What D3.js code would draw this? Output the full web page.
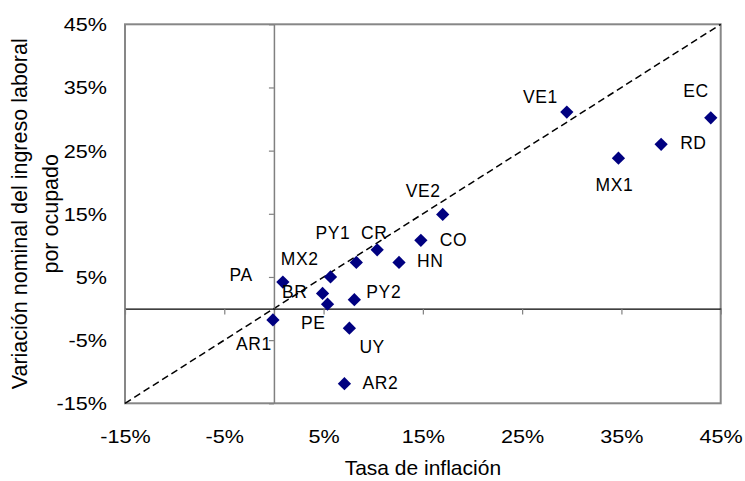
<!DOCTYPE html>
<html>
<head>
<meta charset="utf-8">
<script src="https://cdn.jsdelivr.net/npm/d3@7"></script>
<style>
  html, body { margin: 0; padding: 0; background: #fff; }
  svg { display: block; }
  text { font-family: "Liberation Sans", Arial, sans-serif; fill: #000; }
</style>
</head>
<body>
<svg id="chart" width="745" height="481"></svg>
<script>
// Inflation rate vs. nominal change in labour income per employed person (%)
const codes     = ["VE1", "EC", "RD", "MX1", "VE2", "CO", "CR", "HN", "PY1", "MX2", "PA", "BR", "PE", "PY2", "UY", "AR2", "AR1"];
const inflation = [29.5, 44.0, 39.0, 34.7, 17.0, 14.8, 10.4, 12.6, 8.3, 5.7, 0.9, 4.9, 5.4, 8.1, 7.6, 7.1, -0.1];
const income    = [31.1, 30.2, 26.0, 23.8, 14.9, 10.8, 9.3, 7.3, 7.3, 5.0, 4.2, 2.4, 0.7, 1.4, -3.1, -11.9, -1.8];

const xTicks = [-15, -5, 5, 15, 25, 35, 45];
const yTicks = [-15, -5, 5, 15, 25, 35, 45];
const xTitle = "Tasa de inflación";
const yTitleLines = ["Variación nominal del ingreso laboral", "por ocupado"];

// Label placement relative to each marker: anchor, dx, dy (baseline)
const labelPlacement = {
  VE1: ["end", -9, -9],   EC: ["end", -2, -21],  RD: ["start", 19, 5],
  MX1: ["middle", -4, 33], VE2: ["end", -2, -17], CO: ["start", 19, 6],
  CR: ["middle", -3, -11], HN: ["start", 18, 5],  PY1: ["end", -6, -23],
  MX2: ["end", -12, -12], PA: ["end", -30, -1],  BR: ["end", -15, 5],
  PE: ["end", -2, 25],    PY2: ["start", 12, -2], UY: ["start", 10, 25],
  AR2: ["start", 18, 5],  AR1: ["end", -1, 30]
};

const svg = d3.select("#chart");
const plot = { left: 125, top: 24.3, right: 720.7, bottom: 403.3 };

const x = d3.scaleLinear().domain([-15, 45]).range([plot.left, plot.right]);
const y = d3.scaleLinear().domain([-15, 45]).range([plot.bottom, plot.top]);

const pct = d => d + "%";

// Plot frame
svg.append("rect")
  .attr("x", plot.left).attr("y", plot.top)
  .attr("width", plot.right - plot.left).attr("height", plot.bottom - plot.top)
  .attr("fill", "none").attr("stroke", "#878787").attr("stroke-width", 2);

// 45-degree reference line
svg.append("line")
  .attr("x1", x(-15)).attr("y1", y(-15))
  .attr("x2", x(45)).attr("y2", y(45))
  .attr("stroke", "#000").attr("stroke-width", 1.5)
  .attr("stroke-dasharray", "7,4");

// Vertical axis through x = 0, ticks pointing left
const yZeroAxis = svg.append("g")
  .attr("transform", `translate(${x(0)},0)`)
  .call(d3.axisLeft(y).tickValues(yTicks).tickSize(5).tickSizeOuter(0).tickFormat(""));
yZeroAxis.select(".domain").attr("stroke", "#808080").attr("stroke-width", 1.5);
yZeroAxis.selectAll(".tick line").attr("stroke", "#808080").attr("stroke-width", 1.2);

// Horizontal axis through y = 0, ticks pointing down
const xZeroAxis = svg.append("g")
  .attr("transform", `translate(0,${y(0)})`)
  .call(d3.axisBottom(x).tickValues(xTicks).tickSize(6).tickSizeOuter(0).tickFormat(""));
xZeroAxis.select(".domain").attr("stroke", "#000").attr("stroke-width", 1.3);
xZeroAxis.selectAll(".tick line").attr("stroke", "#808080").attr("stroke-width", 1.2);

// Tick labels at the frame edges
const yLabels = svg.append("g")
  .attr("transform", `translate(107,0)`)
  .call(d3.axisLeft(y).tickValues(yTicks).tickSize(0).tickPadding(0).tickFormat(pct));
yLabels.select(".domain").remove();
yLabels.selectAll(".tick text")
  .attr("x", 0).attr("dy", "0.36em")
  .attr("transform", "scale(1.2,1)")
  .style("font-size", "18px").style("font-family", "'Liberation Sans', Arial, sans-serif");

const xLabels = svg.append("g")
  .attr("transform", `translate(0,442.5)`)
  .call(d3.axisBottom(x).tickValues(xTicks).tickSize(0).tickPadding(0).tickFormat(pct));
xLabels.select(".domain").remove();
xLabels.selectAll(".tick text")
  .attr("y", 0).attr("dy", 0)
  .attr("transform", "scale(1.2,1)")
  .style("font-size", "18px").style("font-family", "'Liberation Sans', Arial, sans-serif");

// Axis titles
svg.append("text")
  .attr("x", (plot.left + plot.right) / 2).attr("y", 475)
  .attr("text-anchor", "middle")
  .style("font-size", "21px")
  .text(xTitle);

const yMid = (plot.top + plot.bottom) / 2;
svg.selectAll(".ytitle")
  .data(yTitleLines)
  .join("text")
  .attr("class", "ytitle")
  .attr("transform", (d, i) => `translate(${27 + i * 30.5},${yMid}) rotate(-90)`)
  .attr("text-anchor", "middle")
  .style("font-size", "21.5px")
  .text(d => d);

// Data
const points = codes.map((c, i) => ({ code: c, inf: inflation[i], inc: income[i] }));

svg.append("g")
  .selectAll("path")
  .data(points)
  .join("path")
  .attr("d", d3.symbol().type(d3.symbolSquare).size(88))
  .attr("transform", d => `translate(${x(d.inf)},${y(d.inc)}) rotate(45)`)
  .attr("fill", "#000080");

svg.append("g")
  .selectAll("text")
  .data(points)
  .join("text")
  .attr("x", d => x(d.inf) + labelPlacement[d.code][1])
  .attr("y", d => y(d.inc) + labelPlacement[d.code][2])
  .attr("text-anchor", d => labelPlacement[d.code][0])
  .style("font-size", "17.5px")
  .style("letter-spacing", "0.6px")
  .text(d => d.code);
</script>
</body>
</html>
